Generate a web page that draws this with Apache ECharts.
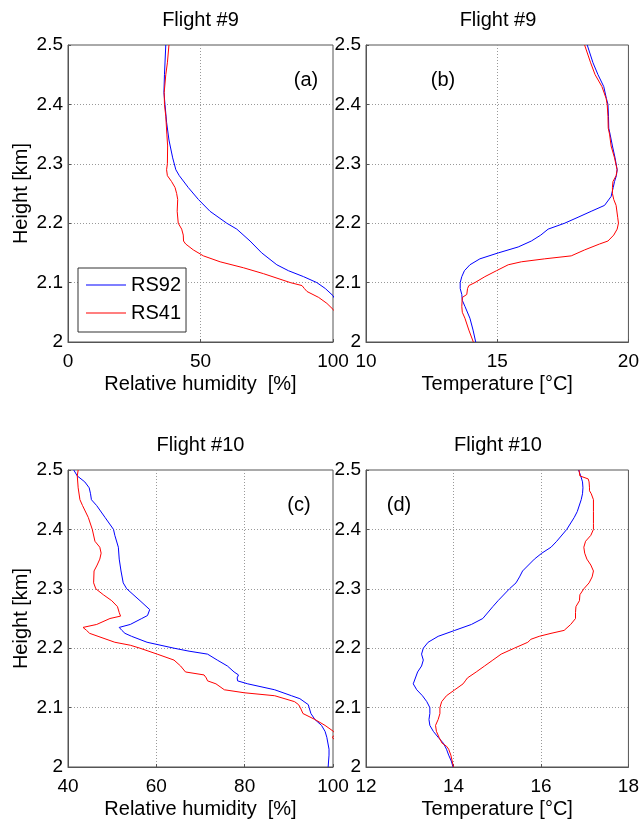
<!DOCTYPE html>
<html>
<head>
<meta charset="utf-8">
<script src="https://cdn.jsdelivr.net/npm/echarts@6/dist/echarts.min.js"></script>
<style>
  html, body { margin: 0; padding: 0; background: #fff; }
  #chart { width: 642px; height: 823px; }
</style>
</head>
<body>
<div id="chart"></div>
<script>
// 数据: [数值, 高度 km]
const rh9_RS92 = [[36.9,2.5],[36.4,2.45],[36.2,2.42],[36.6,2.40],[37.2,2.37],[38.1,2.34],[39.5,2.31],[40.7,2.29],[42,2.28],[45.4,2.26],[49.2,2.24],[53.6,2.22],[59.9,2.20],[63.7,2.19],[68.7,2.17],[73.1,2.15],[78.8,2.13],[83.2,2.12],[88.9,2.11],[93.9,2.10],[97.1,2.09],[100,2.078],[101,2.07]]
const rh9_RS41 = [[38.1,2.5],[37.5,2.47],[36.9,2.45],[36.3,2.42],[36.4,2.40],[36.9,2.38],[37.3,2.35],[37.6,2.33],[37.5,2.30],[37.2,2.29],[37.5,2.28],[39.1,2.27],[40.4,2.26],[41,2.25],[41.4,2.24],[41.2,2.22],[41.6,2.20],[42.9,2.19],[43.5,2.18],[43.6,2.17],[44.4,2.165],[47.3,2.155],[51.1,2.145],[57.4,2.135],[66.2,2.125],[73.8,2.115],[83.9,2.10],[88.3,2.095],[89.2,2.09],[90.2,2.085],[94.6,2.075],[97.7,2.065],[100,2.055],[101,2.05]]
const t9_RS92 = [[18.43,2.5],[18.65,2.47],[18.84,2.45],[19.06,2.43],[19.16,2.41],[19.22,2.40],[19.24,2.38],[19.25,2.36],[19.30,2.35],[19.39,2.33],[19.49,2.31],[19.57,2.29],[19.54,2.28],[19.47,2.27],[19.42,2.26],[19.34,2.245],[19.09,2.23],[18.58,2.22],[18.08,2.21],[17.57,2.20],[16.94,2.19],[16.66,2.18],[16.30,2.17],[15.80,2.16],[15.04,2.15],[14.34,2.14],[13.96,2.13],[13.75,2.12],[13.65,2.11],[13.59,2.10],[13.59,2.09],[13.65,2.08],[13.67,2.07],[13.77,2.06],[13.96,2.04],[14.08,2.02],[14.18,2.0]]
const t9_RS41 = [[18.33,2.5],[18.56,2.47],[18.73,2.45],[18.99,2.43],[19.15,2.41],[19.19,2.40],[19.22,2.38],[19.23,2.36],[19.28,2.35],[19.34,2.33],[19.47,2.31],[19.57,2.29],[19.53,2.28],[19.41,2.27],[19.39,2.26],[19.39,2.25],[19.44,2.24],[19.53,2.23],[19.59,2.21],[19.62,2.20],[19.57,2.19],[19.44,2.18],[19.22,2.17],[18.90,2.165],[18.33,2.155],[17.82,2.145],[16.81,2.14],[15.92,2.135],[15.42,2.13],[14.97,2.12],[14.53,2.11],[14.15,2.10],[13.92,2.095],[13.87,2.09],[13.84,2.08],[13.67,2.075],[13.65,2.06],[13.67,2.05],[13.77,2.04],[13.92,2.02],[14.09,2.0]]
const rh10_RS92 = [[41.3,2.5],[42.1,2.49],[43.8,2.48],[44.8,2.47],[45.1,2.46],[45.3,2.45],[46.5,2.44],[48.4,2.42],[50.3,2.40],[50.6,2.39],[51.4,2.37],[51.6,2.35],[52,2.33],[52.5,2.31],[53.3,2.30],[56.3,2.28],[58.5,2.265],[58,2.255],[56.7,2.25],[54.1,2.24],[51.6,2.235],[52.2,2.23],[52.9,2.225],[54.4,2.22],[57.9,2.21],[64,2.20],[67.4,2.195],[71.6,2.19],[73.8,2.18],[76.1,2.17],[77.6,2.16],[78.6,2.155],[78.3,2.15],[78.4,2.145],[80.7,2.14],[86.8,2.13],[90.6,2.12],[92.5,2.115],[94.4,2.105],[94.6,2.10],[95,2.09],[95.9,2.08],[97.4,2.07],[98.2,2.06],[98.6,2.05],[99.1,2.03],[99.1,2.02],[98.9,2.0]]
const rh10_RS41 = [[42.3,2.5],[42.1,2.49],[42.3,2.47],[42.7,2.45],[43.3,2.44],[44.6,2.42],[45.5,2.40],[46.1,2.38],[47.2,2.37],[47.5,2.36],[47.2,2.35],[46.6,2.34],[45.9,2.33],[45.8,2.31],[46.3,2.30],[48,2.29],[49.9,2.28],[51.2,2.27],[51.6,2.26],[51.9,2.254],[49.5,2.25],[46.5,2.24],[43.4,2.235],[44.2,2.23],[44.9,2.225],[46.8,2.22],[50.6,2.21],[54.1,2.205],[56.3,2.20],[60.2,2.19],[64,2.18],[65.5,2.17],[66.6,2.16],[70.8,2.155],[71.3,2.15],[71.6,2.145],[73.5,2.14],[75.4,2.13],[79.9,2.125],[86.8,2.12],[91.3,2.11],[92.2,2.105],[92.6,2.10],[93.2,2.09],[95.9,2.08],[98.2,2.07],[100.1,2.06],[100.6,2.055],[99.8,2.05],[100.5,2.045],[101,2.04]]
const t10_RS92 = [[16.86,2.5],[16.91,2.49],[16.95,2.48],[16.96,2.47],[16.95,2.46],[16.92,2.45],[16.83,2.43],[16.76,2.42],[16.59,2.40],[16.36,2.38],[16.23,2.37],[16.02,2.36],[15.85,2.35],[15.58,2.33],[15.51,2.32],[15.43,2.31],[15.28,2.30],[15.02,2.28],[14.90,2.27],[14.67,2.25],[14.41,2.24],[14.03,2.23],[13.65,2.22],[13.42,2.21],[13.31,2.20],[13.27,2.19],[13.31,2.18],[13.27,2.17],[13.18,2.16],[13.08,2.14],[13.16,2.13],[13.29,2.12],[13.39,2.11],[13.46,2.10],[13.46,2.09],[13.44,2.08],[13.46,2.07],[13.54,2.06],[13.65,2.05],[13.77,2.04],[13.84,2.03],[13.89,2.02],[13.95,2.01],[13.99,2.0]]
const t10_RS41 = [[16.87,2.5],[16.89,2.49],[17.08,2.485],[17.10,2.48],[17.11,2.47],[17.11,2.465],[17.15,2.46],[17.20,2.45],[17.20,2.43],[17.20,2.41],[17.20,2.40],[17.14,2.39],[17.02,2.38],[16.98,2.37],[17.0,2.36],[17.05,2.35],[17.14,2.34],[17.20,2.33],[17.17,2.32],[17.10,2.31],[16.98,2.30],[16.89,2.29],[16.88,2.28],[16.80,2.27],[16.79,2.26],[16.79,2.25],[16.68,2.24],[16.53,2.23],[16.23,2.225],[15.96,2.22],[15.77,2.215],[15.70,2.21],[15.39,2.20],[15.09,2.19],[14.90,2.18],[14.71,2.17],[14.52,2.16],[14.32,2.15],[14.27,2.145],[14.22,2.14],[14.03,2.13],[13.84,2.12],[13.73,2.11],[13.69,2.10],[13.69,2.09],[13.65,2.08],[13.59,2.07],[13.61,2.06],[13.67,2.05],[13.74,2.04],[13.84,2.035],[13.89,2.03],[13.94,2.02],[13.97,2.01],[14.0,2.0]]

const flightTitles = ['Flight #9', 'Flight #9', 'Flight #10', 'Flight #10']
const panelTags = ['(a)', '(b)', '(c)', '(d)']
const xNames = ['Relative humidity  [%]', 'Temperature [°C]', 'Relative humidity  [%]', 'Temperature [°C]']
const xRanges = [[0, 100, 50], [10, 20, 5], [40, 100, 20], [12, 18, 2]]
const yRange = [2, 2.5, 0.1]
const seriesNames = ['RS92', 'RS41']
const seriesColors = ['#0000ff', '#ff0000']
const panelData = [
  [rh9_RS92, rh9_RS41],
  [t9_RS92, t9_RS41],
  [rh10_RS92, rh10_RS41],
  [t10_RS92, t10_RS41]
]

const FONT = "'Liberation Sans', Arial, sans-serif"

// 布局
const grids = [
  { left: 68, top: 45, width: 265, height: 297 },
  { left: 366, top: 45, width: 264, height: 297 },
  { left: 68, top: 470, width: 265, height: 297 },
  { left: 366, top: 470, width: 264, height: 297 }
]
// 面板标签位置 (相对面板)
const tagPos = [[238, 35], [77, 35], [231, 35], [33, 35]]

const splitStyle = { show: true, showMinLine: false, showMaxLine: false, lineStyle: { type: [1, 2], color: '#999', width: 1 } }
const axisLineStyle = { show: true, lineStyle: { color: '#555', width: 1 } }
const tickStyle = { show: true, inside: true, length: 3, lineStyle: { color: '#555' } }

const titles = []
grids.forEach((g, i) => {
  titles.push({
    text: flightTitles[i],
    left: g.left + g.width / 2,
    top: g.top - 35,
    textAlign: 'center',
    padding: 0,
    textStyle: { fontFamily: FONT, fontSize: 20, fontWeight: 'normal', color: '#000', lineHeight: 20 }
  })
  titles.push({
    text: panelTags[i],
    left: g.left + tagPos[i][0],
    top: g.top + tagPos[i][1] - 10,
    textAlign: 'center',
    padding: 0,
    textStyle: { fontFamily: FONT, fontSize: 20, fontWeight: 'normal', color: '#000', lineHeight: 20 }
  })
})

const option = {
  animation: false,
  backgroundColor: '#fff',
  title: titles,
  grid: grids.map(g => ({ ...g, show: true, borderColor: '#555', borderWidth: 1, backgroundColor: 'transparent', containLabel: false })),
  legend: {
    data: seriesNames.map(n => ({ name: n, icon: 'rect' })),
    orient: 'vertical',
    left: 78,
    top: 268,
    padding: [7, 5, 9, 8],
    itemGap: 8,
    itemWidth: 40,
    itemHeight: 1,
    borderColor: '#333',
    borderWidth: 1,
    backgroundColor: '#fff',
    textStyle: { fontFamily: FONT, fontSize: 20, color: '#000', lineHeight: 20 }
  },
  xAxis: grids.map((g, i) => ({
    type: 'value',
    gridIndex: i,
    min: xRanges[i][0],
    max: xRanges[i][1],
    interval: xRanges[i][2],
    name: xNames[i],
    nameLocation: 'middle',
    nameGap: 32,
    nameTextStyle: { fontFamily: FONT, fontSize: 20, color: '#000' },
    axisLine: axisLineStyle,
    axisTick: tickStyle,
    axisLabel: { fontFamily: FONT, fontSize: 19, color: '#000', margin: 10 },
    splitLine: splitStyle
  })),
  yAxis: grids.map((g, i) => ({
    type: 'value',
    gridIndex: i,
    min: yRange[0],
    max: yRange[1],
    interval: yRange[2],
    name: i % 2 === 0 ? 'Height [km]' : '',
    nameLocation: 'middle',
    nameGap: 37,
    nameTextStyle: { fontFamily: FONT, fontSize: 20, color: '#000' },
    axisLine: axisLineStyle,
    axisTick: tickStyle,
    axisLabel: { fontFamily: FONT, fontSize: 19, color: '#000', margin: 5 },
    splitLine: splitStyle
  })),
  series: []
}

panelData.forEach((pair, i) => {
  pair.forEach((data, k) => {
    option.series.push({
      name: seriesNames[k],
      type: 'line',
      xAxisIndex: i,
      yAxisIndex: i,
      data: data,
      symbol: 'none',
      clip: true,
      color: seriesColors[k],
      lineStyle: { width: 1, color: seriesColors[k] }
    })
  })
})

const chart = echarts.init(document.getElementById('chart'))
chart.setOption(option)
</script>
</body>
</html>
